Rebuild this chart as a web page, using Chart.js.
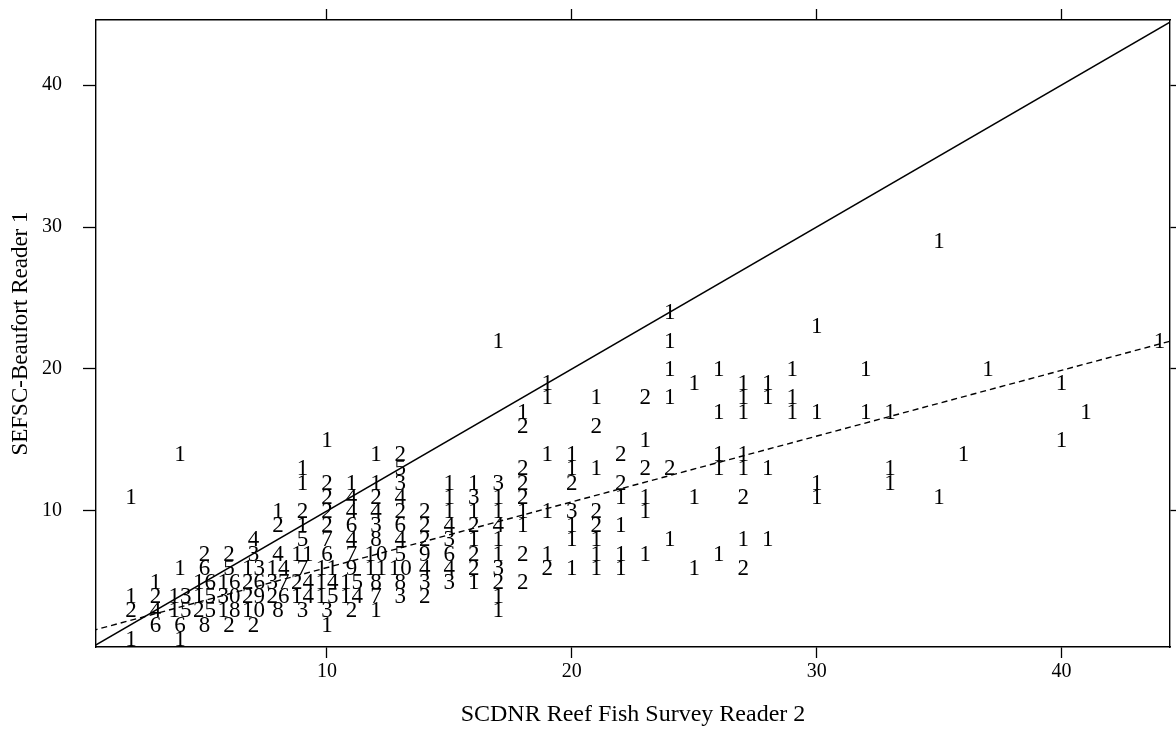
<!DOCTYPE html>
<html>
<head>
<meta charset="utf-8">
<script src="https://cdn.jsdelivr.net/npm/chart.js@4.4.1/dist/chart.umd.min.js"></script>
<style>
html,body{margin:0;padding:0;background:#fff;}
#wrap{width:1176px;height:729px;}
</style>
</head>
<body>
<div id="wrap"><canvas id="c" width="1176" height="729"></canvas></div>
<script>
// Reader 2 age (x), Reader 1 age (y), number of fish at that pair (n)
const reader2 = [
 2,2,2,2,
 3,3,3,3,
 4,4,4,4,4,4,
 5,5,5,5,5,5,
 6,6,6,6,6,6,
 7,7,7,7,7,7,7,
 8,8,8,8,8,8,8,
 9,9,9,9,9,9,9,9,9,9,
 10,10,10,10,10,10,10,10,10,10,10,10,
 11,11,11,11,11,11,11,11,11,11,
 12,12,12,12,12,12,12,12,12,12,12,
 13,13,13,13,13,13,13,13,13,13,13,
 14,14,14,14,14,14,14,
 15,15,15,15,15,15,15,15,
 16,16,16,16,16,16,16,16,
 17,17,17,17,17,17,17,17,17,17,17,
 18,18,18,18,18,18,18,18,18,
 19,19,19,19,19,19,
 20,20,20,20,20,20,20,
 21,21,21,21,21,21,21,21,
 22,22,22,22,22,22,
 23,23,23,23,23,23,
 24,24,24,24,24,24,
 25,25,25,
 26,26,26,26,26,
 27,27,27,27,27,27,27,27,
 28,28,28,28,
 29,29,29,
 30,30,30,30,
 32,32,
 33,33,33,
 35,35,
 36,37,
 40,40,
 41,44
];
const reader1 = [
 11,4,3,1,
 5,4,3,2,
 14,6,4,3,2,1,
 7,6,5,4,3,2,
 7,6,5,4,3,2,
 8,7,6,5,4,3,2,
 10,9,7,6,5,4,3,
 13,12,10,9,8,7,6,5,4,3,
 15,12,11,10,9,8,7,6,5,4,3,2,
 12,11,10,9,8,7,6,5,4,3,
 14,12,11,10,9,8,7,6,5,4,3,
 14,13,12,11,10,9,8,7,6,5,4,
 10,9,8,7,6,5,4,
 12,11,10,9,8,7,6,5,
 12,11,10,9,8,7,6,5,
 22,12,11,10,9,8,7,6,5,4,3,
 17,16,13,12,11,10,9,7,5,
 19,18,14,10,7,6,
 14,13,12,10,9,8,6,
 18,16,13,10,9,8,7,6,
 14,12,11,9,7,6,
 18,15,13,11,10,7,
 24,22,20,18,13,8,
 19,11,6,
 20,17,14,13,7,
 19,18,17,14,13,11,8,6,
 19,18,13,8,
 20,18,17,
 23,17,12,11,
 20,17,
 17,13,12,
 29,11,
 14,20,
 19,15,
 17,22
];
const fishCount = [
 1,1,2,1,
 1,2,4,6,
 1,1,13,15,6,1,
 2,6,16,15,25,8,
 2,5,16,30,18,2,
 4,3,13,26,29,10,2,
 1,2,4,14,37,26,8,
 1,1,2,1,5,11,7,24,14,3,
 1,2,2,2,2,7,6,11,14,15,3,1,
 1,4,4,6,4,7,9,15,14,2,
 1,1,2,4,3,8,10,11,8,7,1,
 2,5,3,4,2,6,4,5,10,8,3,
 2,2,2,9,4,3,2,
 1,1,1,4,3,6,4,3,
 1,3,1,2,1,2,2,1,
 1,3,1,1,4,1,1,3,2,1,1,
 1,2,2,2,2,1,1,2,2,
 1,1,1,1,1,2,
 1,1,2,3,1,1,1,
 1,2,1,2,2,1,1,1,
 2,2,1,1,1,1,
 2,1,2,1,1,1,
 1,1,1,1,2,1,
 1,1,1,
 1,1,1,1,1,
 1,1,1,1,1,2,1,2,
 1,1,1,1,
 1,1,1,
 1,1,1,1,
 1,1,
 1,1,1,
 1,1,
 1,1,
 1,1,
 1,1
];
// reference lines: 1:1 line and fitted regression (dashed)
const identityX = [0, 45];
const identityY = [0, 45];
const fitX = [0, 45];
const fitY = [1.38, 22.22];
const axisTicks = [10, 20, 30, 40];
const xRange = [0.57, 44.43];
const yRange = [0.42, 44.58];

const pts = reader2.map((v, i) => ({x: v, y: reader1[i]}));
const serif = 'Liberation Serif, Times New Roman, serif';

const countLabels = {
  id: 'countLabels',
  afterDatasetsDraw(chart) {
    const meta = chart.getDatasetMeta(2);
    const ctx = chart.ctx;
    ctx.save();
    const a = chart.chartArea;
    ctx.beginPath();
    ctx.rect(a.left, a.top, a.right - a.left, a.bottom - a.top);
    ctx.clip();
    ctx.fillStyle = '#000';
    ctx.font = '23px ' + serif;
    ctx.textAlign = 'center';
    ctx.textBaseline = 'middle';
    meta.data.forEach((el, i) => {
      ctx.fillText(String(fishCount[i]), el.x, el.y + 1);
    });
    ctx.restore();
  }
};

const fixTicks = s => { s.ticks = axisTicks.map(v => ({value: v})); };
const gridOpts = len => ({drawOnChartArea: false, drawTicks: true, tickLength: len, tickColor: '#000', tickWidth: 1.3, color: '#000'});
const borderOpts = {display: true, color: '#000', width: 1.4};

new Chart(document.getElementById('c'), {
  type: 'scatter',
  data: {
    datasets: [
      {data: identityX.map((v, i) => ({x: v, y: identityY[i]})), showLine: true, borderColor: '#000', borderWidth: 1.5, pointRadius: 0, fill: false},
      {data: fitX.map((v, i) => ({x: v, y: fitY[i]})), showLine: true, borderColor: '#000', borderWidth: 1.4, borderDash: [6, 4], pointRadius: 0, fill: false},
      {data: pts, pointRadius: 0, showLine: false}
    ]
  },
  options: {
    responsive: false,
    animation: false,
    events: [],
    layout: {padding: 0},
    plugins: {legend: {display: false}, tooltip: {enabled: false}},
    scales: {
      x: {
        type: 'linear', position: 'bottom', min: xRange[0], max: xRange[1],
        afterBuildTicks: fixTicks,
        afterFit: s => { s.height = 82; s.paddingLeft = 0; s.paddingRight = 0; },
        grid: gridOpts(11), border: borderOpts,
        ticks: {color: '#000', font: {family: serif, size: 20}, padding: 2, maxRotation: 0, autoSkip: false},
        title: {display: true, text: 'SCDNR Reef Fish Survey Reader 2', color: '#000', font: {family: serif, size: 24}, padding: {top: 0, bottom: 0}}
      },
      x2: {
        type: 'linear', axis: 'x', position: 'top', min: xRange[0], max: xRange[1],
        afterBuildTicks: fixTicks,
        afterFit: s => { s.height = 20; s.paddingLeft = 0; s.paddingRight = 0; },
        grid: gridOpts(11), border: borderOpts,
        ticks: {display: false}
      },
      y: {
        type: 'linear', position: 'left', min: yRange[0], max: yRange[1],
        afterBuildTicks: fixTicks,
        afterFit: s => { s.width = 96; s.paddingTop = 0; s.paddingBottom = 0; },
        grid: gridOpts(13), border: borderOpts,
        ticks: {color: '#000', font: {family: serif, size: 20}, padding: 21},
        title: {display: true, text: 'SEFSC-Beaufort Reader 1', color: '#000', font: {family: serif, size: 23}, padding: {top: 7, bottom: 0}}
      },
      y2: {
        type: 'linear', axis: 'y', position: 'right', min: yRange[0], max: yRange[1],
        afterBuildTicks: fixTicks,
        afterFit: s => { s.width = 6; s.paddingTop = 0; s.paddingBottom = 0; },
        grid: gridOpts(6), border: borderOpts,
        ticks: {display: false}
      }
    }
  },
  plugins: [countLabels]
});
</script>
</body>
</html>
